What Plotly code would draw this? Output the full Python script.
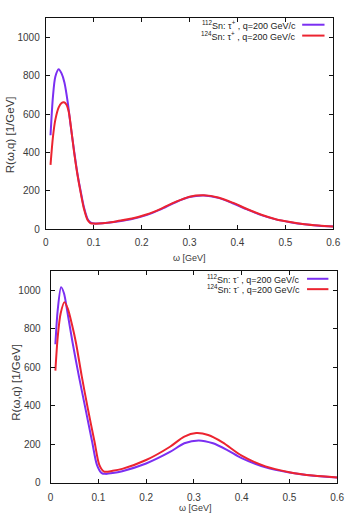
import plotly.graph_objects as go

# ---------------- data ----------------
# Top panel: tau+ , q = 200 GeV/c
top_sn112_x = [0.010, 0.015, 0.020, 0.027, 0.033, 0.039, 0.046, 0.052, 0.059, 0.066, 0.073, 0.080,
               0.087, 0.093, 0.100, 0.110, 0.130, 0.150, 0.180, 0.210, 0.240, 0.270, 0.300, 0.330,
               0.360, 0.390, 0.420, 0.450, 0.480, 0.510, 0.540, 0.570, 0.600]
top_sn112_y = [490, 690, 795, 834, 812, 765, 660, 540, 412, 292, 197, 112,
               56, 36, 31, 30, 34, 41, 54, 74, 104, 140, 168, 176,
               164, 136, 104, 74, 52, 37, 26, 19, 15]

top_sn124_x = [0.010, 0.015, 0.020, 0.027, 0.033, 0.038, 0.043, 0.048, 0.053, 0.059, 0.066, 0.073,
               0.080, 0.087, 0.093, 0.100, 0.110, 0.130, 0.150, 0.180, 0.210, 0.240, 0.270, 0.300,
               0.330, 0.360, 0.390, 0.420, 0.450, 0.480, 0.510, 0.540, 0.570, 0.600]
top_sn124_y = [336, 480, 570, 635, 658, 662, 650, 612, 525, 405, 287, 190,
               104, 50, 33, 30, 30, 35, 43, 56, 77, 107, 142, 170,
               177, 166, 139, 106, 76, 53, 38, 27, 20, 15]

# Bottom panel: tau- , q = 200 GeV/c
bot_sn112_x = [0.010, 0.015, 0.022, 0.028, 0.035, 0.046, 0.059, 0.073, 0.087, 0.097, 0.107, 0.115,
               0.130, 0.150, 0.200, 0.250, 0.280, 0.310, 0.340, 0.370, 0.400, 0.450, 0.500, 0.550, 0.600]
bot_sn112_y = [720, 900, 1017, 985, 890, 729, 557, 385, 213, 93, 50, 46,
               50, 60, 100, 160, 205, 220, 205, 170, 128, 80, 53, 36, 27]

bot_sn124_x = [0.010, 0.015, 0.021, 0.029, 0.036, 0.045, 0.053, 0.065, 0.078, 0.092, 0.102, 0.112,
               0.130, 0.150, 0.200, 0.250, 0.280, 0.305, 0.330, 0.360, 0.400, 0.450, 0.500, 0.550, 0.600]
bot_sn124_y = [583, 760, 880, 939, 905, 820, 729, 557, 385, 213, 93, 58,
               62, 72, 118, 187, 240, 258, 248, 210, 141, 85, 55, 37, 27]

x_ticks = [0, 0.1, 0.2, 0.3, 0.4, 0.5, 0.6]
x_tick_text = ["0", "0.1", "0.2", "0.3", "0.4", "0.5", "0.6"]
y_ticks = [0, 200, 400, 600, 800, 1000]

top_labels = ["<sup>112</sup>Sn: \u03c4<sup>+</sup> , q=200 GeV/c",
              "<sup>124</sup>Sn: \u03c4<sup>+</sup> , q=200 GeV/c"]
bot_labels = ["<sup>112</sup>Sn: \u03c4<sup>-</sup> , q=200 GeV/c",
              "<sup>124</sup>Sn: \u03c4<sup>-</sup> , q=200 GeV/c"]
x_title = "\u03c9 [GeV]"
y_title = "R(\u03c9,q) [1/GeV]"

# ---------------- styling ----------------
W, H = 349, 525
PURPLE = "#7b2ff2"
RED = "#ec2430"
FONT = "Liberation Sans, Arial, sans-serif"
TXT = "#3a3a3a"

def px_x(p):
    return p / W

def px_y(p):
    return 1 - p / H

fig = go.Figure()

def add_line(x, y, color, xa, ya):
    fig.add_trace(go.Scatter(x=x, y=y, mode="lines", xaxis=xa, yaxis=ya,
                             line=dict(color=color, width=2, shape="spline", smoothing=0.8),
                             showlegend=False, hoverinfo="skip"))

add_line(top_sn112_x, top_sn112_y, PURPLE, "x", "y")
add_line(top_sn124_x, top_sn124_y, RED, "x", "y")
add_line(bot_sn112_x, bot_sn112_y, PURPLE, "x2", "y2")
add_line(bot_sn124_x, bot_sn124_y, RED, "x2", "y2")

axis_common = dict(showgrid=False, zeroline=False, showline=True, linecolor="#111", linewidth=1,
                   mirror="allticks", ticks="inside", ticklen=4, tickcolor="#111", tickwidth=1,
                   tickfont=dict(family=FONT, size=10, color=TXT))

fig.update_layout(
    width=W, height=H, margin=dict(l=0, r=0, t=0, b=0),
    paper_bgcolor="white", plot_bgcolor="white", showlegend=False,
    xaxis=dict(domain=[px_x(44), px_x(340)], range=[0, 0.6], anchor="y",
               tickvals=x_ticks, ticktext=x_tick_text, ticklabelstandoff=4, **axis_common),
    yaxis=dict(domain=[px_y(232), px_y(18.3)], range=[0, 1100], anchor="x",
               tickvals=y_ticks, ticklabelstandoff=3, **axis_common),
    xaxis2=dict(domain=[px_x(49), px_x(344)], range=[0, 0.6], anchor="y2",
                tickvals=x_ticks, ticktext=x_tick_text, ticklabelstandoff=5, **axis_common),
    yaxis2=dict(domain=[px_y(488.3), px_y(274.3)], range=[0, 1100], anchor="x2",
                tickvals=y_ticks, ticklabelstandoff=7, **axis_common),
)

annos = []
# axis titles
annos.append(dict(x=px_x(192), y=px_y(261), xref="paper", yref="paper", text=x_title, showarrow=False,
                  font=dict(family=FONT, size=9, color=TXT), xanchor="center", yanchor="middle"))
annos.append(dict(x=px_x(198), y=px_y(513.5), xref="paper", yref="paper", text=x_title, showarrow=False,
                  font=dict(family=FONT, size=9, color=TXT), xanchor="center", yanchor="middle"))
annos.append(dict(x=px_x(8), y=px_y(136), xref="paper", yref="paper", text=y_title, showarrow=False,
                  textangle=-90, font=dict(family=FONT, size=11.5, color=TXT), xanchor="center", yanchor="middle"))
annos.append(dict(x=px_x(12.5), y=px_y(387), xref="paper", yref="paper", text=y_title, showarrow=False,
                  textangle=-90, font=dict(family=FONT, size=11.5, color=TXT), xanchor="center", yanchor="middle"))

shapes = []
def legend_entry(text, text_right, line_x0, line_x1, yline, color):
    annos.append(dict(x=px_x(text_right), y=px_y(yline), xref="paper", yref="paper", text=text,
                      showarrow=False, xanchor="right", yanchor="middle",
                      font=dict(family=FONT, size=9, color="#222")))
    shapes.append(dict(type="line", xref="paper", yref="paper", x0=px_x(line_x0), x1=px_x(line_x1),
                       y0=px_y(yline), y1=px_y(yline), line=dict(color=color, width=2)))

legend_entry(top_labels[0], 304, 308, 331, 25, PURPLE)
legend_entry(top_labels[1], 304, 308, 331, 36, RED)
legend_entry(bot_labels[0], 308, 313, 335, 282, PURPLE)
legend_entry(bot_labels[1], 308, 313, 335, 292.5, RED)

fig.update_layout(annotations=annos, shapes=shapes)
fig.write_html("out.html")
